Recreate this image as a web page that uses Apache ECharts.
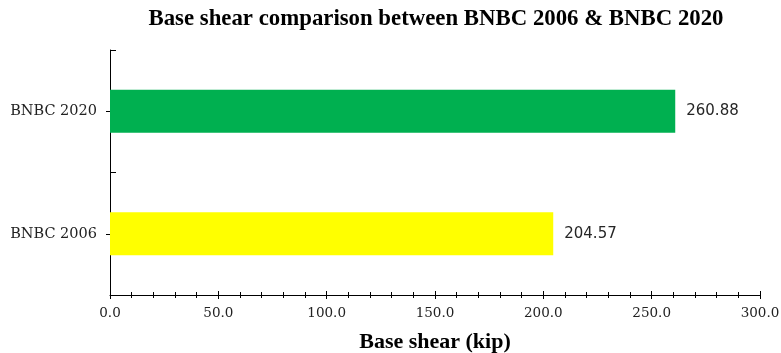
<!DOCTYPE html>
<html>
<head>
<meta charset="utf-8">
<script src="https://cdn.jsdelivr.net/npm/echarts@6/dist/echarts.min.js"></script>
<style>
  html, body { margin: 0; padding: 0; background: #fff; }
  #chart { width: 781px; height: 353px; }
</style>
</head>
<body>
<div id="chart"></div>
<script>
// Code editions compared and their design base shear (kip)
const categories = ['BNBC 2006', 'BNBC 2020'];
const baseShear = [204.57, 260.88];
const barColors = ['#FFFF00', '#00B050'];
const xTickLabels = ['0.0', '50.0', '100.0', '150.0', '200.0', '250.0', '300.0'];

const chart = echarts.init(document.getElementById('chart'));
const serif = '"Liberation Serif", "Times New Roman", serif';
const wideSerif = '"DejaVu Serif", serif';

const baseX = {
  type: 'value', min: 0, max: 300, interval: 50,
  gridIndex: 0
};

chart.setOption({
  backgroundColor: '#fff',
  animation: false,
  title: {
    text: 'Base shear comparison between BNBC 2006 & BNBC 2020',
    left: 431, top: 3, textAlign: 'center',
    textStyle: { fontFamily: serif, fontWeight: 'bold', fontSize: 22.8, color: '#000' }
  },
  grid: { left: 110, right: 21, top: 50, bottom: 58, containLabel: false, outerBoundsMode: 'none' },
  xAxis: [
    Object.assign({}, baseX, {
      name: 'Base shear (kip)', nameLocation: 'middle', nameGap: 36,
      nameTextStyle: { fontFamily: serif, fontWeight: 'bold', fontSize: 22, color: '#000' },
      axisLine: { show: true, lineStyle: { color: '#000', width: 1 } },
      axisTick: { show: true, length: 4, lineStyle: { color: '#000' } },
      minorTick: { show: true, splitNumber: 5, length: 3, lineStyle: { color: '#000' } },
      splitLine: { show: false },
      axisLabel: {
        margin: 11, fontFamily: wideSerif, fontSize: 13.5, color: '#222',
        formatter: (v) => xTickLabels[Math.round(v / 50)]
      }
    }),
    // tick marks on the inner side so they cross the axis line
    Object.assign({}, baseX, {
      position: 'bottom',
      axisLine: { show: false },
      axisTick: { show: true, inside: true, length: 4, lineStyle: { color: '#000' } },
      minorTick: { show: true, splitNumber: 5, length: 3, lineStyle: { color: '#000' } },
      splitLine: { show: false },
      axisLabel: { show: false }
    })
  ],
  yAxis: [
    {
      type: 'category', data: categories,
      axisLine: { show: true, lineStyle: { color: '#000', width: 1 } },
      axisTick: { show: true, inside: true, length: 6, lineStyle: { color: '#000' } },
      axisLabel: { margin: 13, fontFamily: wideSerif, fontSize: 14.5, color: '#222' }
    },
    {
      type: 'category', data: categories, position: 'left',
      axisLine: { show: false },
      axisTick: { show: true, alignWithLabel: true, length: 4, lineStyle: { color: '#000' } },
      axisLabel: { show: false }
    }
  ],
  series: [{
    type: 'bar',
    xAxisIndex: 0, yAxisIndex: 0,
    data: baseShear.map((v, i) => ({ value: v, itemStyle: { color: barColors[i] } })),
    barWidth: '35%',
    label: {
      show: true, position: 'right', distance: 11,
      fontFamily: '"DejaVu Sans", sans-serif', fontSize: 15, color: '#262626',
      formatter: (p) => p.value.toFixed(2)
    }
  }]
});
</script>
</body>
</html>
